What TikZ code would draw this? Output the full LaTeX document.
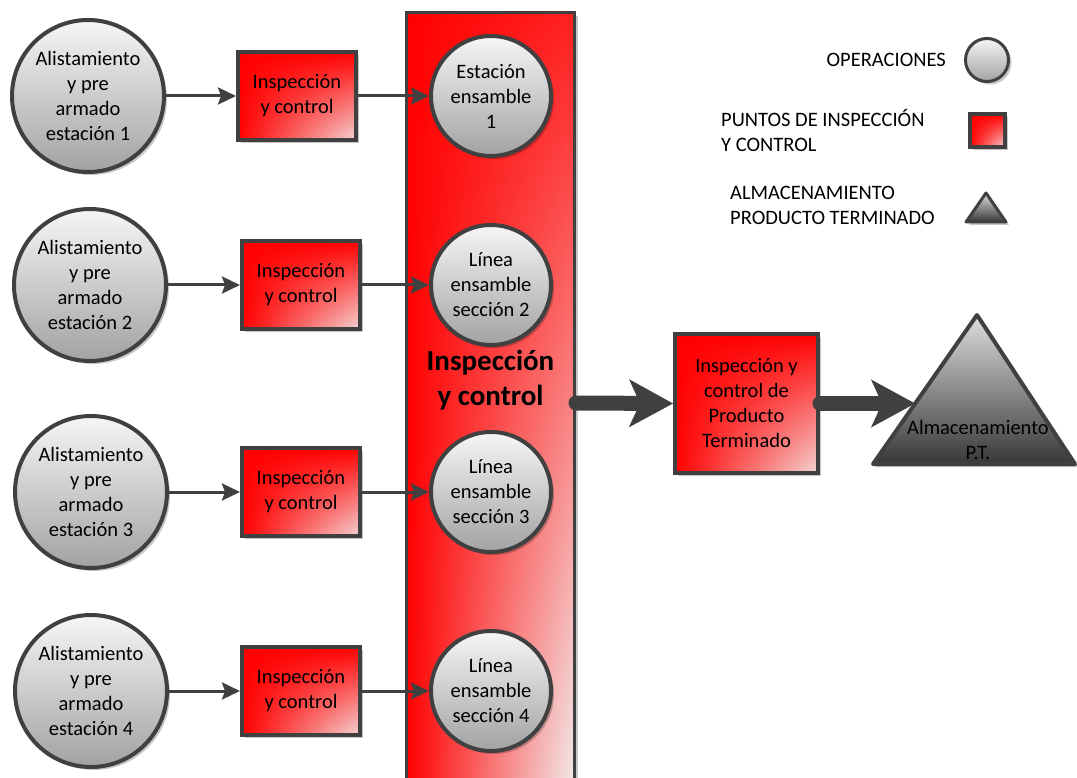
\documentclass[tikz,border=0pt]{standalone}
\usepackage{fontspec}
\setmainfont{Carlito}
\usetikzlibrary{arrows.meta,shadows,shadings,calc}

\definecolor{dk}{HTML}{404040}
\definecolor{opTop}{HTML}{F6F6F6}
\definecolor{opBot}{HTML}{A2A2A2}
\definecolor{redA}{HTML}{FF0000}
\definecolor{redB}{HTML}{FF2020}
\definecolor{paleBox}{HTML}{F4D4D4}
\definecolor{paleBar}{HTML}{F2ECEC}
\definecolor{triTop}{HTML}{DEDEDE}
\definecolor{triBot}{HTML}{383838}

\newcommand\diagfont{\fontsize{20.5}{25}\selectfont}
\newcommand\barfont{\fontsize{29}{35}\selectfont\bfseries}

\tikzset{
  softshadow/.style={drop shadow={shadow xshift=3pt,shadow yshift=-3pt,opacity=0.22,fill=black}},
  opnode/.style={circle,draw=dk,line width=4pt,top color=opTop,bottom color=opBot,
    inner sep=0pt,align=center,font=\diagfont,softshadow},
  bigop/.style={opnode,minimum size=152pt},
  smallop/.style={opnode,minimum size=120pt},
  checkbox/.style={rectangle,draw=dk,line width=4pt,upper left=redA,upper right=redA,
    lower left=redA,lower right=paleBox,inner sep=0pt,align=center,font=\diagfont,softshadow},
  flow/.style={draw=dk,line width=3pt,-{Stealth[length=18pt,width=17pt,inset=3pt]}},
  bigflow/.style={draw=dk,line width=15pt,line cap=round,
    -{Stealth[length=44pt,width=48pt,inset=11pt,line width=1pt]}},
  label/.style={font=\diagfont,inner sep=0pt,align=left},
}

\begin{document}
\begin{tikzpicture}[x=1pt,y=-1pt]
\useasboundingbox (0,0) rectangle (1077,778);

% central inspection bar (runs past the lower edge)
\node[rectangle,draw=dk,line width=3pt,upper left=redA,lower left=redA,
      upper right=redB,lower right=paleBar,minimum width=168pt,minimum height=780pt,
      inner sep=0pt,softshadow] (bar) at (490.5,403) {};
\node[font=\barfont,align=center,inner sep=0pt] (bartext) at (490.5,380) {Inspección\\y control};

% preparation stations
\node[bigop] (prep1) at (88,96)  {Alistamiento\\y pre\\armado\\estación 1};
\node[bigop] (prep2) at (90,285) {Alistamiento\\y pre\\armado\\estación 2};
\node[bigop] (prep3) at (91,492) {Alistamiento\\y pre\\armado\\estación 3};
\node[bigop] (prep4) at (91,691) {Alistamiento\\y pre\\armado\\estación 4};

% inspection points
\node[checkbox,minimum width=118pt,minimum height=88pt] (chk1) at (297,96)  {Inspección\\y control};
\node[checkbox,minimum width=118pt,minimum height=88pt] (chk2) at (301,285) {Inspección\\y control};
\node[checkbox,minimum width=118pt,minimum height=88pt] (chk3) at (301,492) {Inspección\\y control};
\node[checkbox,minimum width=118pt,minimum height=88pt] (chk4) at (301,691) {Inspección\\y control};

% assembly stations inside the bar
\node[smallop] (asm1) at (491,96)  {Estación\\ensamble\\1};
\node[smallop] (asm2) at (491,285) {Línea\\ensamble\\sección 2};
\node[smallop] (asm3) at (491,492) {Línea\\ensamble\\sección 3};
\node[smallop] (asm4) at (491,691) {Línea\\ensamble\\sección 4};

% final inspection
\node[checkbox,minimum width=143pt,minimum height=139pt] (final) at (746.5,403.5)
  {Inspección y\\control de\\Producto\\Terminado};

% finished goods storage
\coordinate (apex) at (977,315);
\coordinate (baseL) at (873,464);
\coordinate (baseR) at (1075,464);
\filldraw[draw=dk,line width=4pt,line join=round,top color=triTop,bottom color=triBot,softshadow]
  (apex) -- (baseR) -- (baseL) -- cycle;
\node[font=\diagfont,align=center,inner sep=0pt] (store) at (978,440) {Almacenamiento\\P.T.};
\coordinate (storeIn) at ($(apex)!0.596!(baseL)$);

% connectors
\foreach \i in {1,...,4} {
  \draw[flow] (prep\i.east) -- (chk\i.west);
  \draw[flow] (chk\i.east) -- (asm\i.west);
}
\draw[bigflow] (bar.east) -- (final.west);
\draw[bigflow] (final.east) -- (final.east -| storeIn);

% legend
\node[label,anchor=east] (legOp) at (946,60) {OPERACIONES};
\node[opnode,line width=3pt,minimum size=43pt] (legOpSym) at (987,60) {};
\node[label,anchor=west] (legChk) at (721,130.5) {PUNTOS DE INSPECCIÓN\\Y CONTROL};
\node[checkbox,minimum width=35pt,minimum height=33pt] (legChkSym) at (987.5,130.5) {};
\node[label,anchor=west] (legSto) at (730,205.5) {ALMACENAMIENTO\\PRODUCTO TERMINADO};
\coordinate (lApex) at (986,193);
\coordinate (lBaseL) at (966,222);
\coordinate (lBaseR) at (1006,222);
\filldraw[draw=dk,line width=3pt,line join=round,top color=triTop,bottom color=triBot,softshadow]
  (lApex) -- (lBaseR) -- (lBaseL) -- cycle;
\end{tikzpicture}
\end{document}
